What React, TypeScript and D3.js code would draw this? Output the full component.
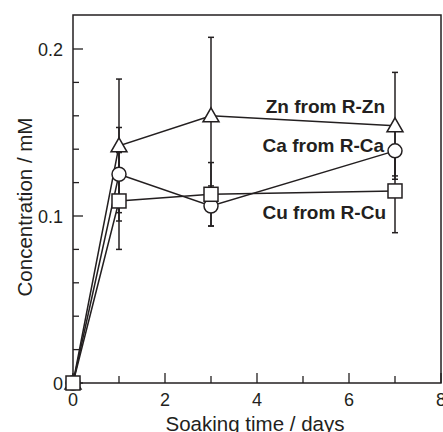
import React from "react";
import * as d3 from "d3";

const days = [0, 1, 3, 7];
const znValues = [0, 0.142, 0.160, 0.154];
const znErr = [0, 0.040, 0.047, 0.032];
const caValues = [0, 0.125, 0.106, 0.139];
const caErr = [0, 0.028, 0.012, 0.015];
const cuValues = [0, 0.109, 0.113, 0.115];
const cuErr = [0, 0.029, 0.019, 0.025];
const xTicks = [0, 2, 4, 6, 8];
const yTicks = [0, 0.1, 0.2];
const seriesLabels = ["Zn from R-Zn", "Ca from R-Ca", "Cu from R-Cu"];

const W = 443, H = 432;
const L = 73, R = 441, T = 15, B = 383;
const C = "#231f20";
const FONT = "'Liberation Sans', Arial, sans-serif";

export default function App() {
  const x = d3.scaleLinear().domain([0, 8]).range([L, R]);
  const y = d3.scaleLinear().domain([0, 0.22]).range([B, B - 0.22 * 1670]);
  const line = d3.line<number>().x((_, i) => x(days[i])).y((v) => y(v));
  const series = [
    { vals: znValues, err: znErr, shape: "tri" },
    { vals: caValues, err: caErr, shape: "circ" },
    { vals: cuValues, err: cuErr, shape: "sq" },
  ];
  const minorX = d3.range(0, 8.01, 1);
  const minorY = d3.range(0, 0.2001, 0.02);
  const marker = (shape: string, cx: number, cy: number, k: string) => {
    if (shape === "tri") {
      const s = 8;
      return <path key={k} d={`M${cx},${cy - s} L${cx + s},${cy + s * 0.75} L${cx - s},${cy + s * 0.75} Z`} fill="white" stroke={C} strokeWidth={1.5} />;
    }
    if (shape === "circ") return <circle key={k} cx={cx} cy={cy} r={7} fill="white" stroke={C} strokeWidth={1.5} />;
    return <rect key={k} x={cx - 7} y={cy - 7} width={14} height={14} fill="white" stroke={C} strokeWidth={1.5} />;
  };
  return (
    <svg width={W} height={H} style={{ position: "absolute", left: 0, top: 0 }}>
      <rect x={0} y={0} width={W} height={H} fill="white" />
      <rect x={L} y={T} width={R - L} height={B - T} fill="none" stroke={C} strokeWidth={1.5} />
      {minorX.map((v) => (
        <line key={"xt" + v} x1={x(v)} x2={x(v)} y1={B} y2={B - (v % 2 === 0 ? 10 : 7)} stroke={C} strokeWidth={1.3} />
      ))}
      {minorY.map((v, i) => (
        <line key={"yt" + i} x1={L} x2={L + (i % 5 === 0 ? 10 : 6)} y1={y(v)} y2={y(v)} stroke={C} strokeWidth={1.3} />
      ))}
      {xTicks.map((v) => (
        <text key={"xl" + v} x={x(v)} y={406} textAnchor="middle" fontFamily={FONT} fontSize={18} fill={C}>{v}</text>
      ))}
      {yTicks.map((v) => (
        <text key={"yl" + v} x={63} y={y(v) + 6.5} textAnchor="end" fontFamily={FONT} fontSize={18} fill={C}>{v}</text>
      ))}
      <text x={255} y={431} textAnchor="middle" fontFamily={FONT} fontSize={20.5} fill={C}>Soaking time / days</text>
      <text transform={`translate(32,${(T + B) / 2 + 8}) rotate(-90)`} textAnchor="middle" fontFamily={FONT} fontSize={20.5} fill={C}>Concentration / mM</text>
      {series.map((s, si) => (
        <g key={"s" + si}>
          {s.vals.map((v, i) =>
            s.err[i] > 0 ? (
              <g key={"e" + i}>
                <line x1={x(days[i])} x2={x(days[i])} y1={y(v - s.err[i])} y2={y(v + s.err[i])} stroke={C} strokeWidth={1.5} />
                <line x1={x(days[i]) - 3} x2={x(days[i]) + 3} y1={y(v - s.err[i])} y2={y(v - s.err[i])} stroke={C} strokeWidth={1.5} />
                <line x1={x(days[i]) - 3} x2={x(days[i]) + 3} y1={y(v + s.err[i])} y2={y(v + s.err[i])} stroke={C} strokeWidth={1.5} />
              </g>
            ) : null
          )}
        </g>
      ))}
      {series.map((s, si) => (
        <path key={"l" + si} d={line(s.vals) || ""} fill="none" stroke={C} strokeWidth={1.5} />
      ))}
      {series.map((s, si) => (
        <g key={"m" + si}>{s.vals.map((v, i) => marker(s.shape, x(days[i]), y(v), si + "-" + i))}</g>
      ))}
      <text x={385} y={113} textAnchor="end" fontFamily={FONT} fontWeight="bold" fontSize={19} fill={C}>{seriesLabels[0]}</text>
      <text x={384} y={152} textAnchor="end" fontFamily={FONT} fontWeight="bold" fontSize={19} fill={C}>{seriesLabels[1]}</text>
      <text x={386} y={219} textAnchor="end" fontFamily={FONT} fontWeight="bold" fontSize={19} fill={C}>{seriesLabels[2]}</text>
    </svg>
  );
}
